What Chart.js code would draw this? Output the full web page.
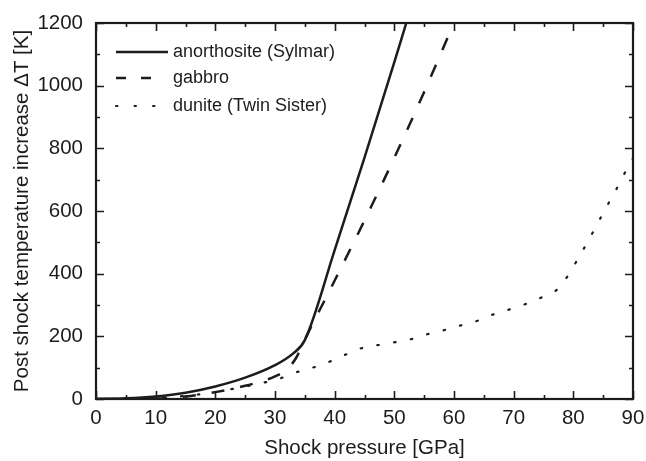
<!DOCTYPE html>
<html lang="en">
<head>
  <meta charset="utf-8" />
  <title>Post shock temperature increase</title>
  <style>
    * { margin: 0; padding: 0; box-sizing: border-box; }
    body { width: 646px; height: 461px; background: #ffffff; }
    #wrap { width: 646px; height: 461px; position: relative; }
  </style>
</head>
<body>
  <div id="wrap"><canvas id="chart"></canvas></div>
  <script src="https://cdn.jsdelivr.net/npm/chart.js@4.4.1/dist/chart.umd.min.js"></script>
  <script>
    // values
    const anorthP = [0, 5, 10, 15, 20, 25, 30, 33, 35, 40, 45, 50, 52.0];
    const anorthT = [0, 2, 8, 20, 40, 68, 108, 145, 188, 475, 770, 1075, 1200];

    const gabbroP = [0, 10, 15, 20, 25, 28, 30, 32, 33.5, 35, 40, 45, 50, 55, 60.0];
    const gabbroT = [0, 1, 8, 22, 42, 58, 72, 95, 130, 190, 378, 570, 770, 980, 1200];

    const duniteP = [0, 10, 15, 20, 22, 25, 28, 30.5, 33, 36, 39, 42, 45, 48, 50, 53, 55, 58, 61, 64, 66, 69, 72, 75, 77.5, 79.3, 81, 82.5, 84, 85.5, 87, 88.5, 90];
    const duniteT = [0, 2, 10, 22, 29, 40, 52, 63, 82, 98, 118, 143, 165, 174, 181, 192, 204, 218, 234, 250, 266, 284, 303, 327, 353, 400, 455, 505, 558, 611, 662, 717, 768];

    const seriesNames = ["anorthosite (Sylmar)", "gabbro", "dunite (Twin Sister)"];
    const xTicks = [0, 10, 20, 30, 40, 50, 60, 70, 80, 90];
    const yTicks = [0, 200, 400, 600, 800, 1000, 1200];

    const ink = "#1c1c1c";
    const fontFamily = "'Liberation Sans', Arial, sans-serif";
    const pts = (xs, ys) => xs.map((x, i) => ({ x: x, y: ys[i] }));

    // frame with inward ticks on all four sides
    const framePlugin = {
      id: "frame",
      afterDatasetsDraw(chart) {
        const { ctx, chartArea: a, scales: { x, y } } = chart;
        ctx.save();
        ctx.strokeStyle = ink;
        ctx.lineWidth = 2.2;
        ctx.strokeRect(a.left, a.top, a.right - a.left, a.bottom - a.top);
        ctx.lineWidth = 1.6;
        ctx.beginPath();
        for (let v = 0; v <= 90; v += 5) {
          const px = Math.round(x.getPixelForValue(v)) + 0.5;
          const len = v % 10 === 0 ? 8 : 4;
          ctx.moveTo(px, a.bottom); ctx.lineTo(px, a.bottom - len);
          ctx.moveTo(px, a.top); ctx.lineTo(px, a.top + len);
        }
        for (let v = 0; v <= 1200; v += 100) {
          const py = Math.round(y.getPixelForValue(v)) + 0.5;
          const len = v % 200 === 0 ? 8 : 4;
          ctx.moveTo(a.left, py); ctx.lineTo(a.left + len, py);
          ctx.moveTo(a.right, py); ctx.lineTo(a.right - len, py);
        }
        ctx.stroke();
        ctx.restore();
      }
    };

    // legend drawn inside the plot, upper left
    const legendPlugin = {
      id: "innerLegend",
      afterDraw(chart) {
        const { ctx, chartArea: a } = chart;
        const dashes = [[], [10, 15], [1.5, 17]];
        const ends = [72, 55, 72];
        const rows = [29, 55, 83];
        ctx.save();
        ctx.font = "18px " + fontFamily;
        ctx.textBaseline = "middle";
        ctx.fillStyle = ink;
        ctx.strokeStyle = ink;
        seriesNames.forEach((name, i) => {
          const yy = a.top + rows[i];
          ctx.lineWidth = i === 2 ? 2 : 2.5;
          ctx.lineCap = i === 2 ? "round" : "butt";
          ctx.setLineDash(dashes[i]);
          ctx.beginPath();
          ctx.moveTo(a.left + 20, yy);
          ctx.lineTo(a.left + ends[i], yy);
          ctx.stroke();
          ctx.fillText(name, a.left + 77, yy);
        });
        ctx.restore();
      }
    };

    new Chart(document.getElementById("chart"), {
      type: "line",
      data: {
        datasets: [
          {
            label: seriesNames[0],
            data: pts(anorthP, anorthT),
            borderColor: ink,
            borderWidth: 2.5,
            pointRadius: 0,
            cubicInterpolationMode: "monotone"
          },
          {
            label: seriesNames[1],
            data: pts(gabbroP, gabbroT),
            borderColor: ink,
            borderWidth: 2.5,
            borderDash: [13, 16],
            pointRadius: 0,
            cubicInterpolationMode: "monotone"
          },
          {
            label: seriesNames[2],
            data: pts(duniteP, duniteT),
            borderColor: ink,
            borderWidth: 2.2,
            borderDash: [1.5, 15.5],
            borderCapStyle: "round",
            pointRadius: 0,
            cubicInterpolationMode: "monotone"
          }
        ]
      },
      options: {
        responsive: true,
        maintainAspectRatio: false,
        animation: false,
        layout: { padding: { top: 23, right: 13, left: 0, bottom: 0 } },
        plugins: { legend: { display: false }, tooltip: { enabled: false } },
        scales: {
          x: {
            type: "linear",
            min: 0,
            max: 90,
            afterBuildTicks: (s) => { s.ticks = xTicks.map(v => ({ value: v })); },
            afterFit: (s) => { s.height = 62; s.paddingLeft = 0; s.paddingRight = 0; },
            grid: { display: false, drawTicks: false },
            border: { display: false },
            ticks: {
              color: ink,
              padding: 7,
              maxRotation: 0,
              callback: (v) => String(v),
              font: { family: fontFamily, size: 20.5 }
            },
            title: {
              display: true,
              text: "Shock pressure [GPa]",
              color: ink,
              padding: { top: 0, bottom: 0 },
              font: { family: fontFamily, size: 20.5 }
            }
          },
          y: {
            type: "linear",
            min: 0,
            max: 1200,
            afterBuildTicks: (s) => { s.ticks = yTicks.map(v => ({ value: v })); },
            afterFit: (s) => { s.width = 96; s.paddingTop = 0; s.paddingBottom = 0; },
            grid: { display: false, drawTicks: false },
            border: { display: false },
            ticks: {
              color: ink,
              padding: 13,
              callback: (v) => String(v),
              font: { family: fontFamily, size: 20.5 }
            },
            title: {
              display: true,
              text: "Post shock temperature increase \u0394T [K]",
              color: ink,
              padding: { top: 10, bottom: 0 },
              font: { family: fontFamily, size: 20.5 }
            }
          }
        }
      },
      plugins: [framePlugin, legendPlugin]
    });
  </script>
</body>
</html>
